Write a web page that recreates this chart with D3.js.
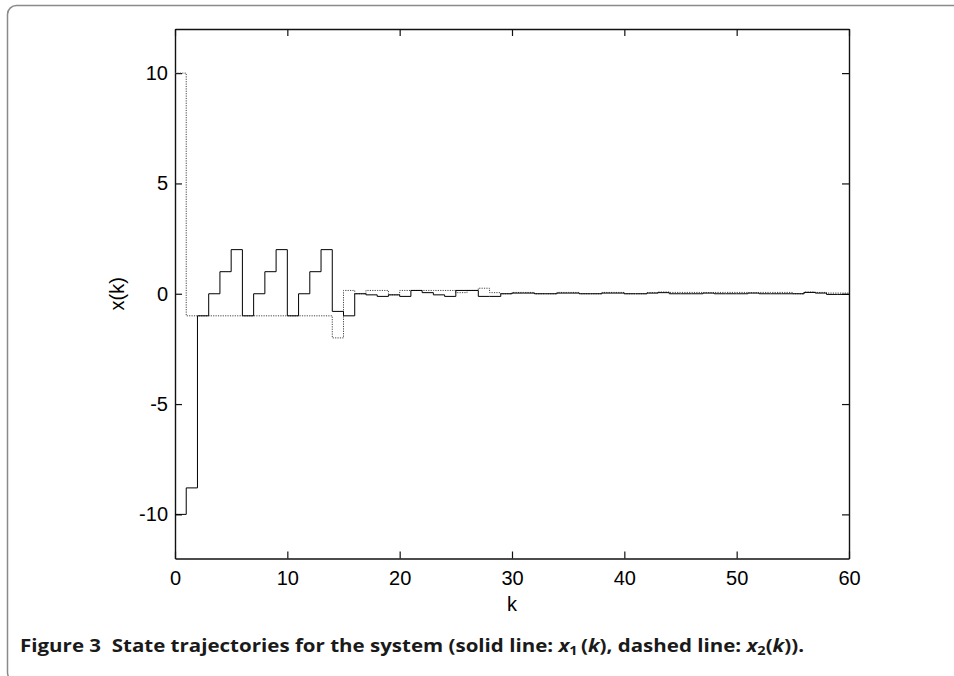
<!DOCTYPE html>
<html>
<head>
<meta charset="utf-8">
<script src="https://cdn.jsdelivr.net/npm/d3@7"></script>
<style>
    body { margin: 0; background: #fff; }
    svg { display: block; }
    .tick-label { font-family: "Liberation Sans", Arial, sans-serif; font-size: 20px; fill: #000; }
    .caption { font-family: "Open Sans", "Noto Sans", sans-serif; font-size: 17px; font-weight: 700; fill: #1a1a1a; }
</style>
</head>
<body>
<div id="chart"></div>
<script>
// State trajectories x1(k), x2(k), k = 0..60 (stairs)
const kValues = d3.range(0, 61);

const x1Values = [
    -10, -8.8, -1, 0, 1, 2, -1, 0, 1, 2,
    -1, 0, 1, 2, -0.8, -1, 0, -0.05, -0.12, -0.05,
    -0.12, 0.15, 0.05, -0.05, -0.12, 0.15, 0.15, -0.12, -0.12, 0,
    0.03, 0.03, 0, 0, 0.03, 0.03, 0, 0, 0.03, 0.03,
    0, 0, 0.03, 0.05, 0, 0, 0, 0.03, 0, 0,
    0, 0.03, 0, 0, 0, 0, 0.06, 0.03, -0.03, -0.03,
    -0.03
];

const x2Values = [
    10, -1, -1, -1, -1, -1, -1, -1, -1, -1,
    -1, -1, -1, -1, -2, 0.15, 0, 0.15, 0.15, -0.05,
    0.15, 0.15, 0.15, 0.15, 0.15, 0.05, 0.15, 0.25, 0.05, 0,
    0.06, 0.06, 0, 0, 0.06, 0.06, 0, 0, 0.06, 0.06,
    0, 0, 0.05, 0.08, 0.06, 0.06, 0.06, 0.05, 0.06, 0.06,
    0.06, 0.05, 0.06, 0.06, 0.06, 0, 0.08, 0.06, 0.03, 0.03,
    0.03
];

const xTicks = [0, 10, 20, 30, 40, 50, 60];
const yTicks = [-10, -5, 0, 5, 10];

const width = 954, height = 676;
const plot = { left: 175, right: 849, top: 29, bottom: 558.5 };

const svg = d3.select('#chart').append('svg')
    .attr('width', width)
    .attr('height', height);

// outer frame of the figure (cut off at right and bottom)
svg.append('rect')
    .attr('x', 7.5).attr('y', 5.5)
    .attr('width', 1000).attr('height', 676)
    .attr('rx', 9)
    .attr('fill', 'none')
    .attr('stroke', '#8a8a8a')
    .attr('stroke-width', 1.5);

const x = d3.scaleLinear().domain([0, 60]).range([plot.left, plot.right]);
const y = d3.scaleLinear().domain([-12, 12]).range([plot.bottom, plot.top]);

const tickLen = 7;
const plain = d => String(d);

// axes: bottom / left with labels, top / right without, ticks inward
svg.append('g')
    .attr('transform', `translate(0,${plot.bottom})`)
    .call(d3.axisBottom(x).tickValues(xTicks).tickFormat(plain).tickSizeInner(-tickLen).tickSizeOuter(0).tickPadding(12))
    .call(g => g.selectAll('text').attr('class', 'tick-label'));

svg.append('g')
    .attr('transform', `translate(0,${plot.top})`)
    .call(d3.axisTop(x).tickValues(xTicks).tickSizeInner(-tickLen).tickSizeOuter(0).tickFormat(''));

svg.append('g')
    .attr('transform', `translate(${plot.left},0)`)
    .call(d3.axisLeft(y).tickValues(yTicks).tickFormat(plain).tickSizeInner(-tickLen).tickSizeOuter(0).tickPadding(7))
    .call(g => g.selectAll('text').attr('class', 'tick-label'));

svg.append('g')
    .attr('transform', `translate(${plot.right},0)`)
    .call(d3.axisRight(y).tickValues(yTicks).tickSizeInner(-tickLen).tickSizeOuter(0).tickFormat(''));

// d3 puts font attributes on the axis groups; drop them so the css wins
svg.selectAll('g').attr('font-size', null).attr('font-family', null);
svg.selectAll('.domain').attr('stroke', '#111').attr('stroke-width', 1.4);
svg.selectAll('.tick line').attr('stroke', '#111').attr('stroke-width', 1.2);

// axis titles
svg.append('text')
    .attr('class', 'tick-label')
    .attr('x', (plot.left + plot.right) / 2)
    .attr('y', 611)
    .attr('text-anchor', 'middle')
    .text('k');

svg.append('text')
    .attr('class', 'tick-label')
    .attr('transform', `translate(124,${y(0)}) rotate(-90)`)
    .attr('text-anchor', 'middle')
    .text('x(k)');

// stairs
const line = d3.line()
    .x(d => x(d[0]))
    .y(d => y(d[1]))
    .curve(d3.curveStepAfter);

svg.append('clipPath').attr('id', 'plot-clip')
    .append('rect')
    .attr('x', plot.left).attr('y', plot.top)
    .attr('width', plot.right - plot.left).attr('height', plot.bottom - plot.top);

svg.append('path')
    .datum(kValues.map((k, i) => [k, x2Values[i]]))
    .attr('d', line)
    .attr('clip-path', 'url(#plot-clip)')
    .attr('fill', 'none')
    .attr('stroke', '#444')
    .attr('stroke-width', 1)
    .attr('stroke-dasharray', '1.2,1.2');

svg.append('path')
    .datum(kValues.map((k, i) => [k, x1Values[i]]))
    .attr('d', line)
    .attr('clip-path', 'url(#plot-clip)')
    .attr('fill', 'none')
    .attr('stroke', '#000')
    .attr('stroke-width', 1);

// caption
const cap = svg.append('text')
    .attr('class', 'caption')
    .attr('x', 20)
    .attr('y', 652)
    .attr('textLength', 784)
    .attr('lengthAdjust', 'spacingAndGlyphs');

cap.append('tspan').text('Figure 3\u00a0\u00a0State trajectories for the system (solid line: ');
cap.append('tspan').attr('font-style', 'italic').text('x');
cap.append('tspan').attr('font-size', '12px').attr('dy', 3).text('1');
cap.append('tspan').attr('dy', -3).text('\u2009(');
cap.append('tspan').attr('font-style', 'italic').text('k');
cap.append('tspan').text('), dashed line: ');
cap.append('tspan').attr('font-style', 'italic').text('x');
cap.append('tspan').attr('font-size', '12px').attr('dy', 3).text('2');
cap.append('tspan').attr('dy', -3).text('(');
cap.append('tspan').attr('font-style', 'italic').text('k');
cap.append('tspan').text(')).');
</script>
</body>
</html>
